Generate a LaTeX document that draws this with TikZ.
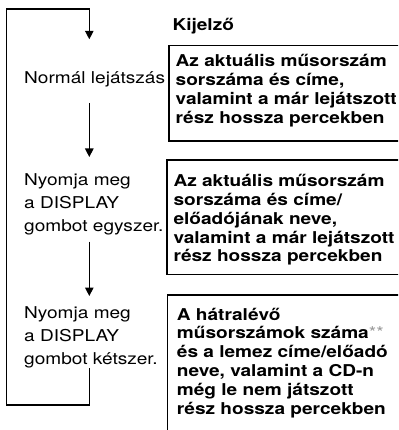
\documentclass[tikz,border=0pt]{standalone}
\usepackage{fontspec}
\setmainfont[FakeStretch=1.17]{TeX Gyre Heros}
\usetikzlibrary{arrows.meta}
\begin{document}
\begin{tikzpicture}[x=1pt,y=-1pt,
  lbl/.style={anchor=base west, inner sep=0pt, align=left, font=\fontsize{16.3}{23.3}\selectfont},
  btxt/.style={anchor=base west, inner sep=0pt, align=left, font=\fontsize{16.3}{18.8}\selectfont\bfseries},
  boxline/.style={line width=1.6pt},
  loopline/.style={line width=1.3pt},
  arr/.style={loopline, -{Triangle[length=8.5pt,width=8.5pt]}}
]
\useasboundingbox (0,0) rectangle (398,430);
\clip (0,0) rectangle (398,430);

% heading
\node[btxt] (head) at (172.3,30.7) {Kijelző};

% box outlines (open at the right edge)
\coordinate (b1a) at (420,45.7);
\coordinate (b1b) at (169,141);
\coordinate (b1c) at (420,141);
\coordinate (b2a) at (420,160);
\coordinate (b2b) at (167,274.3);
\coordinate (b2c) at (420,274.3);
\coordinate (b3a) at (420,295);
\coordinate (b3b) at (167.5,450);
\draw[boxline] (b1a) -| (b1b) -- (b1c);
\draw[boxline] (b2a) -| (b2b) -- (b2c);
\draw[boxline] (b3a) -| (b3b);

% box texts (anchored at the baseline of the last line)
\node[btxt] (t1) at (175.5,123.1) {Az aktuális műsorszám\\sorszáma és címe,\\valamint a már lejátszott\\rész hossza percekben};
\node[btxt] (t2) at (173.3,261.9) {Az aktuális műsorszám\\sorszáma és címe/\\előadójának neve,\\valamint a már lejátszott\\rész hossza percekben};
\node[btxt] (t3) at (176.7,414) {A hátralévő\\műsorszámok száma{\mdseries\color{gray!80}**}\\és a lemez címe/előadó\\neve, valamint a CD-n\\még le nem játszott\\rész hossza percekben};

% left column
\node[lbl] (n1) at (24,84) {Normál lejátszás};
\node[lbl] (n2) at (24,231.6) {Nyomja meg\\a DISPLAY\\gombot egyszer.};
\node[lbl] (n3) at (24,364.6) {Nyomja meg\\a DISPLAY\\gombot kétszer.};

% connector coordinates
\coordinate (top) at (89.3,9);
\coordinate (tl) at (6.7,9);
\coordinate (tip1) at (89.3,39.3);
\coordinate (s2) at (89.3,103);
\coordinate (tip2) at (89.3,157);
\coordinate (s3) at (89.3,241.7);
\coordinate (tip3) at (89.3,296);
\coordinate (ret) at (89.3,368);
\coordinate (bot) at (89.3,405);

\draw[arr] (s2) -- (tip2);
\draw[arr] (s3) -- (tip3);
\draw[arr] (ret) -- (bot) -| (tl) -- (top) -- (tip1);
\end{tikzpicture}
\end{document}
